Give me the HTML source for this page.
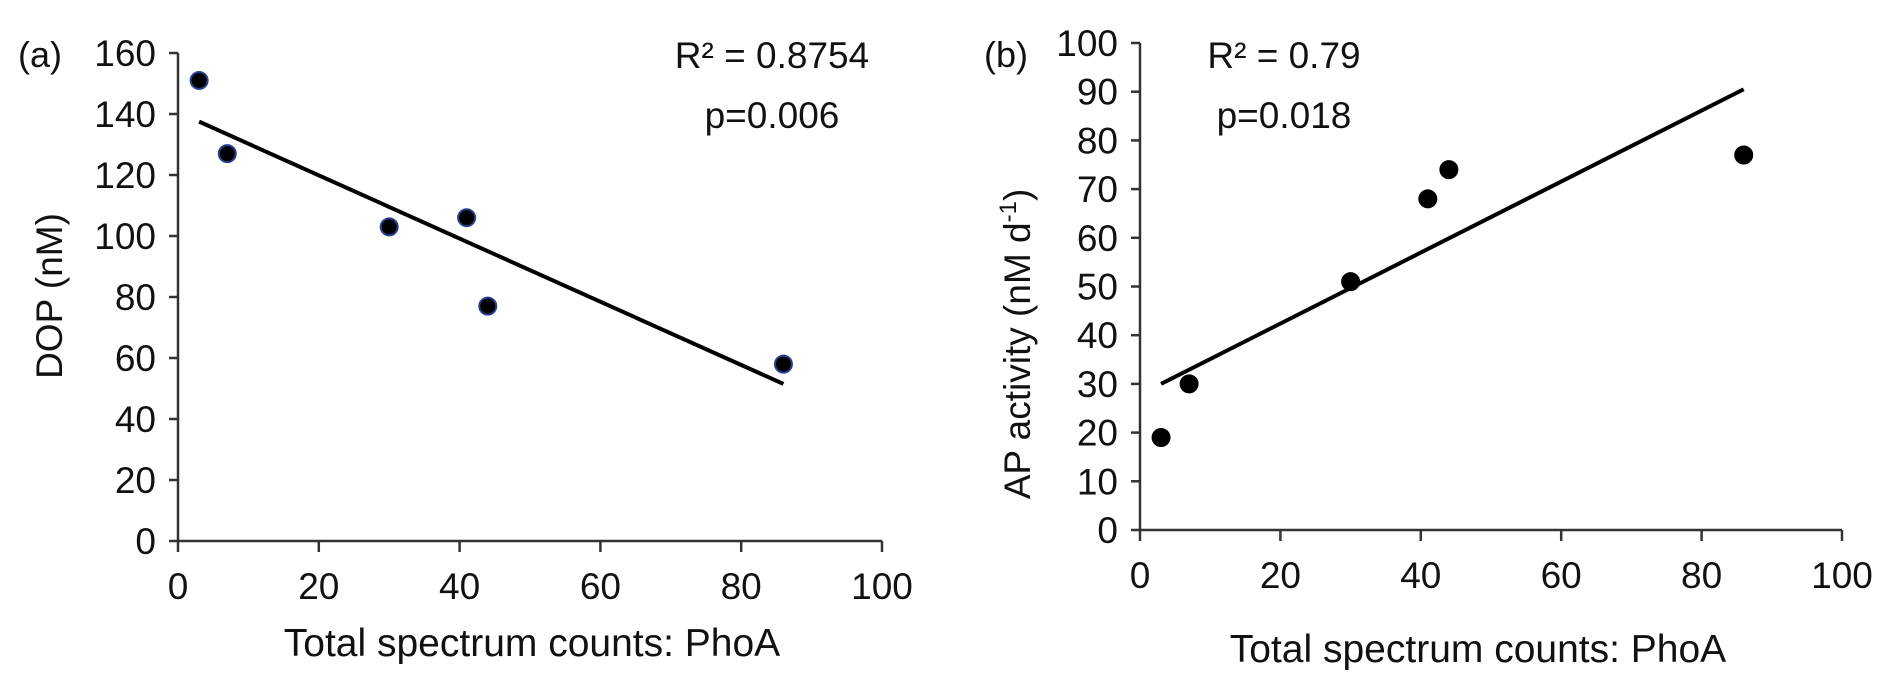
<!DOCTYPE html>
<html><head><meta charset="utf-8"><style>
body{margin:0;background:#fff;}
svg text{font-family:"Liberation Sans",Arial,sans-serif;fill:#111;}
</style></head><body>
<svg id="c" width="1892" height="692" xmlns="http://www.w3.org/2000/svg"></svg>
<script>
const xsA=[3,7,30,41,44,86];
const ysA=[151,127,103,106,77,58];
const fitA=[[3,137.5],[86,51.5]];
const xsB=[3,7,30,41,44,86];
const ysB=[19,30,51,68,74,77];
const fitB=[[3,30],[86,90.5]];
const xTicks=[0,20,40,60,80,100];
const yTicksA=[0,20,40,60,80,100,120,140,160];
const yTicksB=[0,10,20,30,40,50,60,70,80,90,100];
const NS="http://www.w3.org/2000/svg";
const svg=document.getElementById('c');
function mk(t,a,p){const e=document.createElementNS(NS,t);for(const k in a)e.setAttribute(k,a[k]);(p||svg).appendChild(e);return e;}
function panel(o){
 const g=mk('g',{});
 
 
 const sx=v=>o.x0+(v-0)/100*(o.x1-o.x0);
 const sy=v=>o.y0-(v/o.ymax)*(o.y0-o.y1);
 const ax=mk('path',{d:`M${o.x0},${o.y1} L${o.x0},${o.y0} L${o.x1},${o.y0}`,stroke:'#333',fill:'none','stroke-width':2.5},g);
 
 
 o.yt.forEach(v=>{
  mk('line',{x1:o.x0-9,x2:o.x0,y1:sy(v),y2:sy(v),stroke:'#333','stroke-width':2.5},g);
  const t=mk('text',{x:o.x0-22,y:sy(v)+13,'font-size':37,'text-anchor':'end'},g);t.textContent=v;
  
  
 });
 xTicks.forEach(v=>{
  mk('line',{x1:sx(v),x2:sx(v),y1:o.y0,y2:o.y0+11,stroke:'#333','stroke-width':2.5},g);
  const t=mk('text',{x:sx(v),y:o.y0+58,'font-size':37,'text-anchor':'middle'},g);t.textContent=v;
  
  
 });
 const ln=mk('line',{x1:sx(o.fit[0][0]),y1:sy(o.fit[0][1]),x2:sx(o.fit[1][0]),y2:sy(o.fit[1][1]),stroke:'#000','stroke-width':4},g);
 
 
 o.xs.forEach((x,i)=>{
  const c=mk('circle',{cx:sx(x),cy:sy(o.ys[i]),r:8.5,fill:'#000',stroke:o.ring,'stroke-width':2},g);
  
  
 });
 const xt=mk('text',{x:o.xtx,y:o.xty,'font-size':39,'text-anchor':'middle'},g);xt.textContent='Total spectrum counts: PhoA';
 
 
 const yt=mk('text',{x:0,y:0,'font-size':37,'text-anchor':'middle',transform:`translate(${o.ytx},${o.yty}) rotate(-90)`},g);yt.innerHTML=o.ytitle;
 
 
 const lb=mk('text',{x:o.lx,y:o.ly,'font-size':36},g);lb.textContent=o.label;
 
 
 const r=mk('text',{x:o.rx,y:o.ry,'font-size':37,'text-anchor':'middle'},g);r.textContent=o.r2;
 
 
 const p=mk('text',{x:o.rx,y:o.ry+60,'font-size':37,'text-anchor':'middle'},g);p.textContent=o.p;
 
 
}
panel({id:'a',x0:178,x1:882,y0:541,y1:53,ymax:160,yt:yTicksA,xs:xsA,ys:ysA,fit:fitA,ring:'#2a3f8f',
 xtx:532,xty:656,ytx:62,yty:296,ytitle:'DOP (nM)',lx:18,ly:67,label:'(a)',rx:772,ry:68,r2:'R² = 0.8754',p:'p=0.006'});
panel({id:'b',x0:1140,x1:1842,y0:530,y1:43,ymax:100,yt:yTicksB,xs:xsB,ys:ysB,fit:fitB,ring:'#000',
 xtx:1478,xty:662,ytx:1030,yty:344,ytitle:'AP activity (nM d<tspan dy="-14" font-size="24">-1</tspan><tspan dy="14">)</tspan>',lx:984,ly:67,label:'(b)',rx:1284,ry:68,r2:'R² = 0.79',p:'p=0.018'});
</script>
</body></html>
